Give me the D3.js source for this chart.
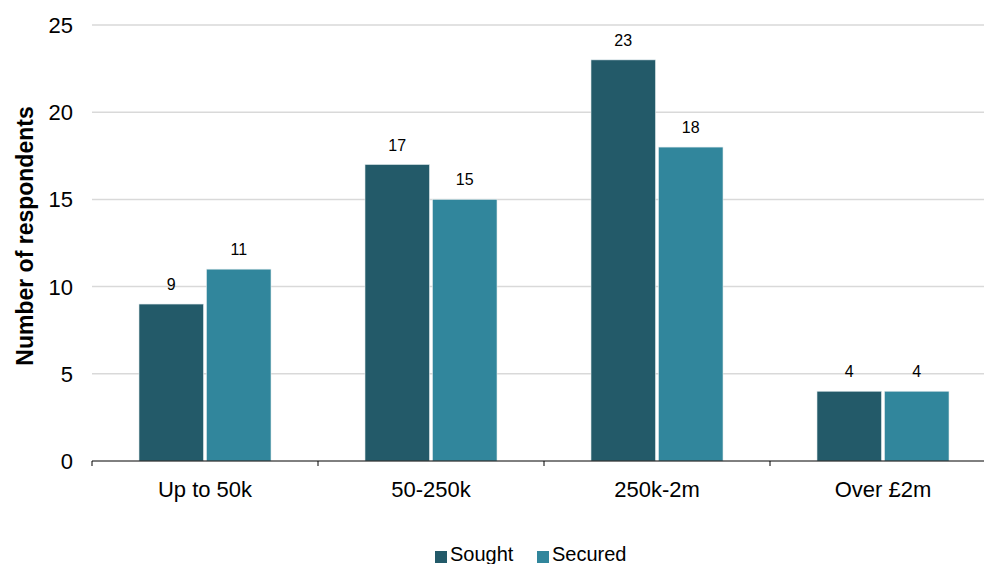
<!DOCTYPE html>
<html><head><meta charset="utf-8">
<script src="https://cdn.jsdelivr.net/npm/d3@7"></script>
<style>body{margin:0;background:#fff;}svg{display:block;font-family:"Liberation Sans",Arial,sans-serif;}</style>
</head><body><svg id="c" width="984" height="564"></svg>
<script>
const categories = ["Up to 50k", "50-250k", "250k-2m", "Over £2m"];
const seriesNames = ["Sought", "Secured"];
const sought = [9, 17, 23, 4];
const secured = [11, 15, 18, 4];
const yTicks = [0, 5, 10, 15, 20, 25];
const colors = ["#235A69", "#31869C"];

(function(){
const svg = d3.select("#c");
const mLeft = 92, mRight = 996, mTop = 25, mBottom = 461;
const x = d3.scaleBand().domain(categories).range([mLeft, mRight]).paddingInner(0).paddingOuter(0);
const y = d3.scaleLinear().domain([0, 25]).range([mBottom, mTop]);
const inner = d3.scaleBand().domain(seriesNames).range([47, 47 + 132]).paddingInner(6/132);

// grid
svg.append("g").selectAll("line").data(yTicks.filter(d => d > 0)).join("line")
  .attr("x1", mLeft).attr("x2", 984).attr("y1", d => y(d)).attr("y2", d => y(d))
  .attr("stroke", "#D9D9D9").attr("stroke-width", 1.5);

// y labels
svg.append("g").selectAll("text").data(yTicks).join("text")
  .attr("x", 73).attr("y", d => y(d)).attr("dy", "0.36em").attr("text-anchor", "end")
  .attr("font-size", 22).attr("fill", "#000").text(d => d);

svg.append("text").attr("transform", `translate(33,${236}) rotate(-90)`)
  .attr("text-anchor", "middle").attr("font-size", 23).attr("font-weight", "bold").text("Number of respondents");

const data = categories.map((c, i) => ({c, vals: [sought[i], secured[i]]}));
const g = svg.append("g").selectAll("g").data(data).join("g").attr("transform", d => `translate(${x(d.c)},0)`);
g.selectAll("rect").data(d => d.vals.map((v, j) => ({v, s: seriesNames[j], j}))).join("rect")
  .attr("x", d => inner(d.s)).attr("width", inner.bandwidth())
  .attr("y", d => y(d.v)).attr("height", d => y(0) - y(d.v))
  .attr("fill", d => colors[d.j]).attr("stroke", "#dfe9ec").attr("stroke-width", 0.6);
g.selectAll("text").data(d => d.vals.map((v, j) => ({v, s: seriesNames[j]}))).join("text")
  .attr("x", d => inner(d.s) + inner.bandwidth()/2).attr("y", d => y(d.v) - 14)
  .attr("text-anchor", "middle").attr("font-size", 16).attr("fill", "#000").text(d => d.v);

// x axis
const xa = svg.append("g");
xa.append("line").attr("x1", mLeft).attr("x2", 984).attr("y1", mBottom).attr("y2", mBottom).attr("stroke", "#000").attr("stroke-width", 1);
xa.selectAll("line.t").data(categories).join("line").attr("class", "t")
  .attr("x1", d => x(d)).attr("x2", d => x(d)).attr("y1", mBottom).attr("y2", mBottom + 5).attr("stroke", "#000");
xa.selectAll("text").data(categories).join("text")
  .attr("x", d => x(d) + x.bandwidth()/2).attr("y", 497).attr("text-anchor", "middle")
  .attr("font-size", 22).attr("fill", "#000").text(d => d);

// legend
const leg = svg.append("g");
const legItems = [{n: "Sought", x: 435}, {n: "Secured", x: 537}];
legItems.forEach((it, i) => {
  leg.append("rect").attr("x", it.x).attr("y", 551).attr("width", 12).attr("height", 12).attr("fill", colors[i]);
  leg.append("text").attr("x", it.x + 15).attr("y", 561).attr("font-size", 20).text(it.n);
});
})();
</script></body></html>
